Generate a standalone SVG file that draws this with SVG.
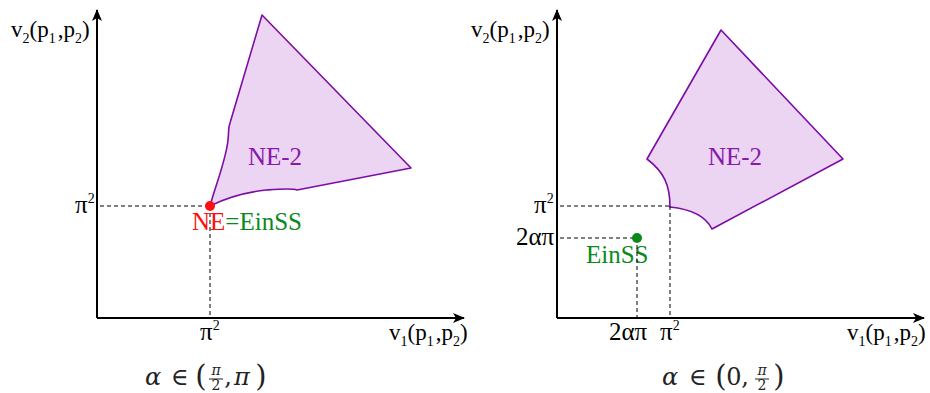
<svg xmlns="http://www.w3.org/2000/svg" width="930" height="393" viewBox="0 0 930 393">
<defs>
<marker id="arr" viewBox="0 0 12 10" refX="11" refY="5" markerWidth="12" markerHeight="10" markerUnits="userSpaceOnUse" orient="auto">
<path d="M0,0 L12,5 L0,10 L3,5 Z" fill="#000"/>
</marker>
<style>
.axis{stroke:#000;stroke-width:2;fill:none}
.dash{stroke:#000;stroke-width:1;stroke-dasharray:4,3;fill:none}
.region{fill:#ebd5f3;stroke:#7d0ca6;stroke-width:1.6;stroke-linejoin:round}
.t{font-size:25px;fill:#000}
.ax{font-size:23px}
.s{font-size:14px}
.ne{fill:#8a18ad}
.red{fill:#ff1010}
.grn{fill:#0a8a1a}
.cap{font-size:24px;fill:#222;text-anchor:middle}
.fr{font-size:14px}
.big{font-size:29px}
.it{font-style:italic}
</style>
</defs>

<g id="left-panel">
<g id="left-region">
<path class="region" d="M210,206 C216,184 226,160 228,140 C229,132 228,128 230,123 L262,15 L411,168 L297,190 C292,188 280,189 266,190 C240,193 222,200 210,206 Z"/>
<text class="t ne" font-family="Liberation Serif, Times New Roman, serif" x="275" y="165" text-anchor="middle">NE-2</text>
</g>
<g id="left-connectors">
<line class="axis" x1="97" y1="318" x2="97" y2="10" marker-end="url(#arr)"/>
<line class="axis" x1="97" y1="318" x2="464" y2="318" marker-end="url(#arr)"/>
</g>
<g id="left-labels" font-family="Liberation Serif, Times New Roman, serif">
<text class="t ax" x="11" y="37">v<tspan class="s" dy="6">2</tspan><tspan dy="-6">(p</tspan><tspan class="s" dy="6">1</tspan><tspan dy="-6" dx="2">,p</tspan><tspan class="s" dy="6">2</tspan><tspan dy="-6">)</tspan></text>
<text class="t ax" x="389" y="340">v<tspan class="s" dy="6">1</tspan><tspan dy="-6">(p</tspan><tspan class="s" dy="6">1</tspan><tspan dy="-6" dx="2">,p</tspan><tspan class="s" dy="6">2</tspan><tspan dy="-6">)</tspan></text>
<text class="t" x="75" y="213">π<tspan class="s" dy="-10">2</tspan></text>
<text class="t" x="200" y="340">π<tspan class="s" dy="-10">2</tspan></text>
<text class="t" x="192" y="230"><tspan class="red">NE</tspan><tspan class="grn">=EinSS</tspan></text>
</g>
<g id="left-guides">
<line class="dash" x1="100" y1="206" x2="210" y2="206"/>
<line class="dash" x1="210" y1="206" x2="210" y2="318"/>
</g>
<g id="left-point">
<circle cx="210" cy="206" r="5" fill="#ff1010"/>
</g>
<g id="left-caption" font-family="DejaVu Serif, Liberation Serif, serif">
<text class="cap it" x="153" y="385">α</text>
<text class="cap" x="180" y="385">∈</text>
<text class="cap big" x="201" y="386">(</text>
<text class="cap fr it" x="216" y="375">π</text>
<line x1="209" y1="379" x2="223" y2="379" stroke="#222" stroke-width="1"/>
<text class="cap fr" x="216" y="390">2</text>
<text class="cap" x="228" y="385">,</text>
<text class="cap it" x="242" y="385">π</text>
<text class="cap big" x="261" y="386">)</text>
</g>
</g>

<g id="right-panel">
<g id="right-region">
<path class="region" d="M647,159 L721,30 L843,159 L712,229 C705,215 690,209 670,207 C670,185 664,172 647,159 Z"/>
<text class="t ne" font-family="Liberation Serif, Times New Roman, serif" x="735" y="165" text-anchor="middle">NE-2</text>
</g>
<g id="right-connectors">
<line class="axis" x1="557" y1="318" x2="557" y2="10" marker-end="url(#arr)"/>
<line class="axis" x1="557" y1="318" x2="924" y2="318" marker-end="url(#arr)"/>
</g>
<g id="right-labels" font-family="Liberation Serif, Times New Roman, serif">
<text class="t ax" x="471" y="37">v<tspan class="s" dy="6">2</tspan><tspan dy="-6">(p</tspan><tspan class="s" dy="6">1</tspan><tspan dy="-6" dx="2">,p</tspan><tspan class="s" dy="6">2</tspan><tspan dy="-6">)</tspan></text>
<text class="t ax" x="847" y="340">v<tspan class="s" dy="6">1</tspan><tspan dy="-6">(p</tspan><tspan class="s" dy="6">1</tspan><tspan dy="-6" dx="2">,p</tspan><tspan class="s" dy="6">2</tspan><tspan dy="-6">)</tspan></text>
<text class="t" x="534" y="213">π<tspan class="s" dy="-10">2</tspan></text>
<text class="t" x="516" y="245">2απ</text>
<text class="t" x="609" y="340">2απ</text>
<text class="t" x="660" y="340">π<tspan class="s" dy="-10">2</tspan></text>
<text class="t grn" x="586" y="263">EinSS</text>
</g>
<g id="right-guides">
<line class="dash" x1="560" y1="206" x2="670" y2="206"/>
<line class="dash" x1="670" y1="206" x2="670" y2="318"/>
<line class="dash" x1="560" y1="238" x2="637" y2="238"/>
<line class="dash" x1="637" y1="238" x2="637" y2="318"/>
</g>
<g id="right-point">
<circle cx="637" cy="238" r="5" fill="#0a8a1a"/>
</g>
<g id="right-caption" font-family="DejaVu Serif, Liberation Serif, serif">
<text class="cap it" x="670" y="385">α</text>
<text class="cap" x="698" y="385">∈</text>
<text class="cap big" x="721" y="386">(</text>
<text class="cap" x="734" y="385">0</text>
<text class="cap" x="745" y="385">,</text>
<text class="cap fr it" x="762" y="375">π</text>
<line x1="755" y1="379" x2="769" y2="379" stroke="#222" stroke-width="1"/>
<text class="cap fr" x="762" y="390">2</text>
<text class="cap big" x="779" y="386">)</text>
</g>
</g>
</svg>
